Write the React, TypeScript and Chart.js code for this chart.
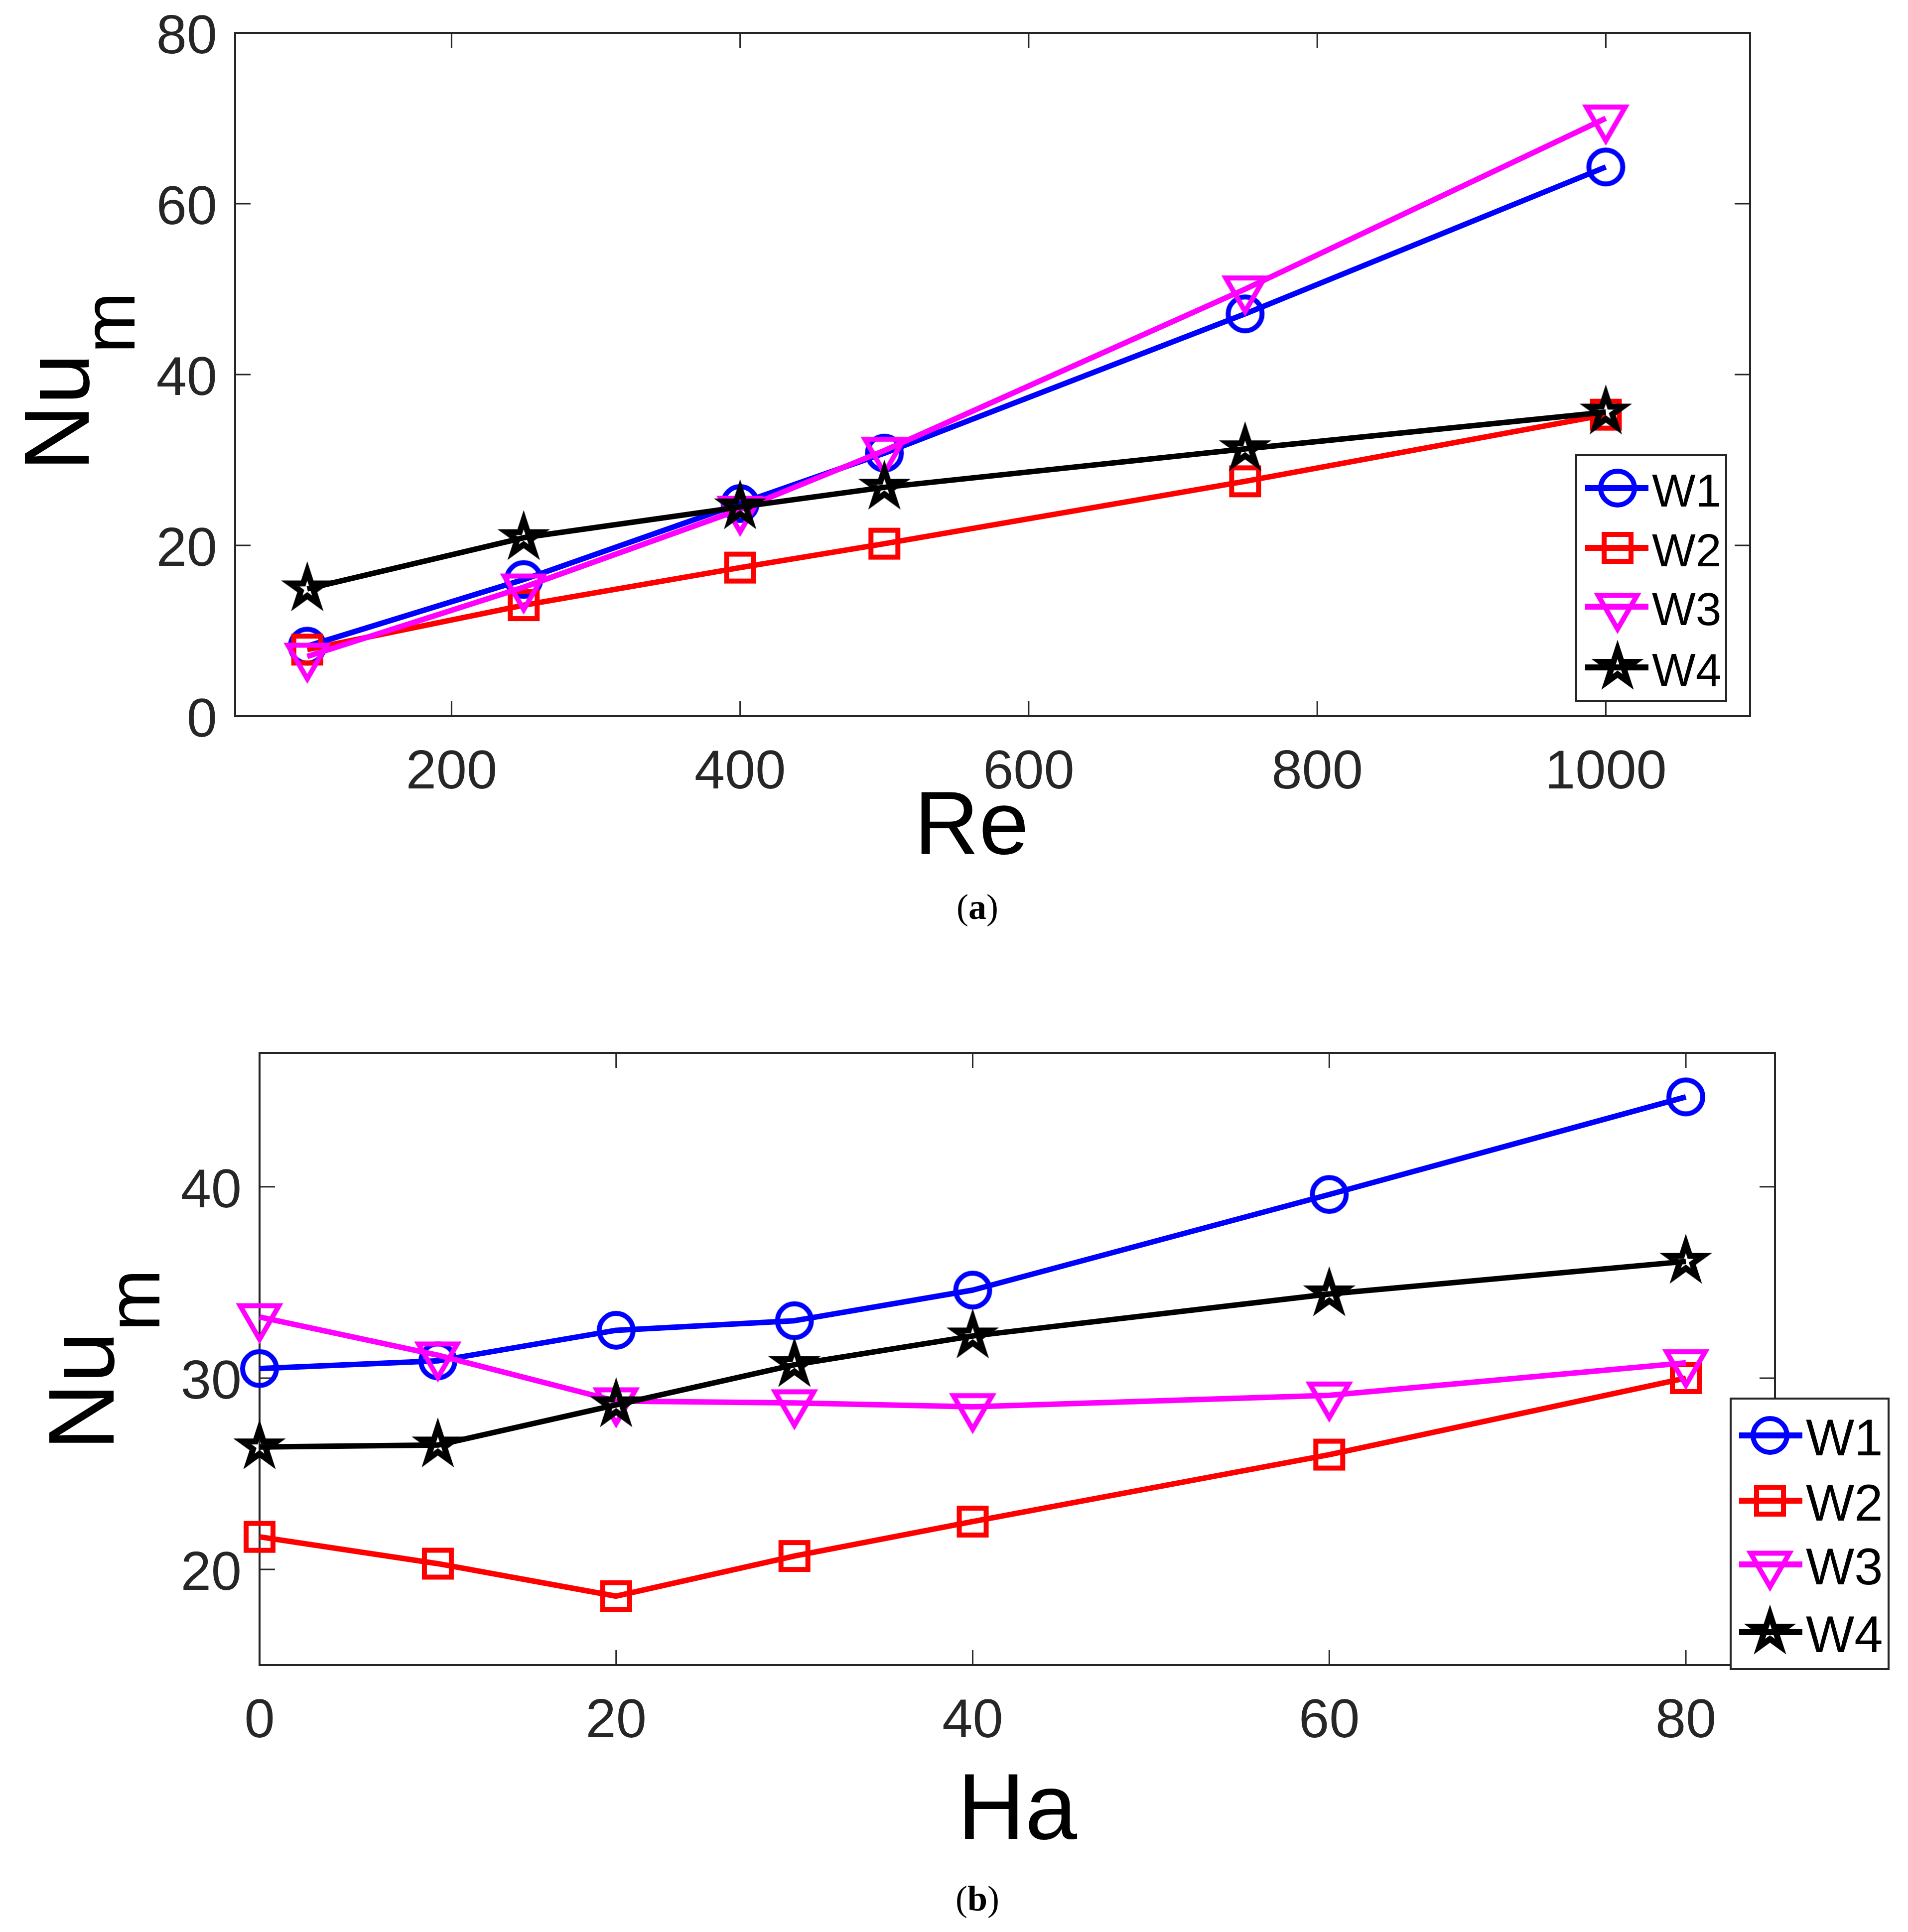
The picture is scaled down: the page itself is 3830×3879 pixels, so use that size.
import React, { useEffect, useRef } from 'react';
import { Chart, registerables } from 'chart.js';

Chart.register(...registerables);

// ---------- data (a): Nu_m vs Re ----------
const reValues = [100, 250, 400, 500, 750, 1000];
const reW1 = [8.2, 16.0, 24.9, 30.8, 47.1, 64.3];
const reW2 = [7.8, 13.0, 17.4, 20.2, 27.5, 35.3];
const reW3 = [7.0, 15.1, 24.2, 31.1, 50.0, 70.0];
const reW4 = [14.9, 20.9, 24.5, 26.8, 31.3, 35.6];
const reXTicks = [200, 400, 600, 800, 1000];
const reYTicks = [0, 20, 40, 60, 80];

// ---------- data (b): Nu_m vs Ha ----------
const haValues = [0, 10, 20, 30, 40, 60, 80];
const haW1 = [30.5, 30.9, 32.5, 33.0, 34.6, 39.6, 44.7];
const haW2 = [21.7, 20.3, 18.6, 20.7, 22.5, 26.0, 30.0];
const haW3 = [33.2, 31.2, 28.8, 28.7, 28.5, 29.1, 30.8];
const haW4 = [26.4, 26.5, 28.6, 30.7, 32.2, 34.4, 36.1];
const haXTicks = [0, 20, 40, 60, 80];
const haYTicks = [20, 30, 40];

const seriesNames = ['W1', 'W2', 'W3', 'W4'];
const seriesColors = ['#0000ff', '#ff0000', '#ff00ff', '#000000'];
const seriesMarkers = ['circle', 'square', 'triangleDown', 'star'];

const SANS = '"Liberation Sans", Arial, Helvetica, sans-serif';
const AXIS_COLOR = '#262626';

function makeMarker(kind: string, color: string): HTMLCanvasElement {
  const size = 140;
  const c = document.createElement('canvas');
  c.width = size;
  c.height = size;
  const ctx = c.getContext('2d')!;
  const cx = size / 2;
  const cy = size / 2;
  ctx.strokeStyle = color;
  ctx.lineJoin = 'miter';
  ctx.lineWidth = 10;
  ctx.beginPath();
  if (kind === 'circle') {
    ctx.arc(cx, cy, 34, 0, Math.PI * 2);
  } else if (kind === 'square') {
    ctx.rect(cx - 27, cy - 27, 54, 54);
  } else if (kind === 'triangleDown') {
    const r = 45;
    const angs = [180, 300, 60];
    angs.forEach((a, i) => {
      const rad = (a * Math.PI) / 180;
      const px = cx + Math.sin(rad) * r;
      const py = cy - Math.cos(rad) * r;
      if (i === 0) ctx.moveTo(px, py);
      else ctx.lineTo(px, py);
    });
    ctx.closePath();
  } else {
    ctx.lineWidth = 12;
    const R = 36;
    const rIn = R * 0.382;
    for (let i = 0; i < 10; i++) {
      const a = -Math.PI / 2 + (i * Math.PI) / 5;
      const rr = i % 2 === 0 ? R : rIn;
      const px = cx + Math.cos(a) * rr;
      const py = cy + Math.sin(a) * rr;
      if (i === 0) ctx.moveTo(px, py);
      else ctx.lineTo(px, py);
    }
    ctx.closePath();
  }
  ctx.stroke();
  return c;
}

type LegendCfg = {
  left: number; top: number; right: number; bottom: number;
  rows: number[]; lineX1: number; lineX2: number; markerX: number;
  textX: number; textSize: number; textDy: number;
};

type DecorCfg = {
  xTitle: string; xTitleX: number; xTitleY: number; xTitleSize: number;
  yTitleX: number; yTitleCY: number; yMain: number; ySub: number; yShift: number;
  legend: LegendCfg;
};

function makeDecor(cfg: DecorCfg, markers: HTMLCanvasElement[]) {
  return {
    id: 'decor',
    beforeDatasetsDraw(chart: any) {
      const { ctx, chartArea: a } = chart;
      const xs = chart.scales.x;
      const ys = chart.scales.y;
      ctx.save();
      ctx.strokeStyle = AXIS_COLOR;
      ctx.lineWidth = 3;
      ctx.beginPath();
      for (const t of xs.ticks) {
        const px = xs.getPixelForValue(t.value);
        ctx.moveTo(px, a.bottom);
        ctx.lineTo(px, a.bottom - 30);
        ctx.moveTo(px, a.top);
        ctx.lineTo(px, a.top + 30);
      }
      for (const t of ys.ticks) {
        const py = ys.getPixelForValue(t.value);
        ctx.moveTo(a.left, py);
        ctx.lineTo(a.left + 31, py);
        ctx.moveTo(a.right, py);
        ctx.lineTo(a.right - 31, py);
      }
      ctx.stroke();
      ctx.lineWidth = 4;
      ctx.strokeRect(a.left, a.top, a.right - a.left, a.bottom - a.top);

      // x title
      ctx.fillStyle = '#000';
      ctx.font = `${cfg.xTitleSize}px ${SANS}`;
      ctx.textAlign = 'center';
      ctx.textBaseline = 'alphabetic';
      ctx.fillText(cfg.xTitle, cfg.xTitleX, cfg.xTitleY);

      // y title Nu_m
      ctx.translate(cfg.yTitleX, cfg.yTitleCY);
      ctx.rotate(-Math.PI / 2);
      ctx.textAlign = 'left';
      const mainFont = `${cfg.yMain}px ${SANS}`;
      const subFont = `${cfg.ySub}px ${SANS}`;
      ctx.font = mainFont;
      const w1 = ctx.measureText('Nu').width;
      ctx.font = subFont;
      const w2 = ctx.measureText('m').width;
      const start = -(w1 + w2) / 2;
      ctx.font = mainFont;
      ctx.fillText('Nu', start, 0);
      ctx.font = subFont;
      ctx.fillText('m', start + w1, cfg.yShift);
      ctx.restore();
    },
    afterDatasetsDraw(chart: any) {
      const { ctx } = chart;
      const L = cfg.legend;
      ctx.save();
      ctx.fillStyle = '#fff';
      ctx.fillRect(L.left, L.top, L.right - L.left, L.bottom - L.top);
      ctx.strokeStyle = AXIS_COLOR;
      ctx.lineWidth = 4;
      ctx.strokeRect(L.left, L.top, L.right - L.left, L.bottom - L.top);
      seriesNames.forEach((name, i) => {
        const y = L.rows[i];
        ctx.strokeStyle = seriesColors[i];
        ctx.lineWidth = 12;
        ctx.beginPath();
        ctx.moveTo(L.lineX1, y);
        ctx.lineTo(L.lineX2, y);
        ctx.stroke();
        const m = markers[i];
        ctx.drawImage(m, L.markerX - m.width / 2, y - m.height / 2);
        ctx.fillStyle = '#000';
        ctx.font = `${L.textSize}px ${SANS}`;
        ctx.textAlign = 'left';
        ctx.textBaseline = 'alphabetic';
        ctx.fillText(name, L.textX, y + L.textDy);
      });
      ctx.restore();
    },
  };
}

function buildChart(
  canvas: HTMLCanvasElement,
  xVals: number[],
  series: number[][],
  xMin: number, xMax: number, yMin: number, yMax: number,
  xTicks: number[], yTicks: number[],
  layout: { top: number; right: number; yWidth: number; xHeight: number },
  decor: DecorCfg
) {
  const markers = seriesMarkers.map((k, i) => makeMarker(k, seriesColors[i]));
  const datasets = series.map((vals, i) => ({
    label: seriesNames[i],
    data: xVals.map((x, j) => ({ x, y: vals[j] })),
    borderColor: seriesColors[i],
    backgroundColor: seriesColors[i],
    borderWidth: 11,
    borderJoinStyle: 'round' as const,
    pointStyle: markers[i],
    pointRadius: 35,
    pointHoverRadius: 35,
    tension: 0,
    clip: false as any,
    order: 3 - i,
  }));
  const tickFont = { family: SANS, size: 110, lineHeight: 1 };
  return new Chart(canvas, {
    type: 'line',
    data: { datasets },
    options: {
      responsive: false,
      animation: false,
      devicePixelRatio: 1,
      events: [],
      layout: { padding: { top: layout.top, right: layout.right, left: 0, bottom: 0 } },
      plugins: { legend: { display: false }, tooltip: { enabled: false }, title: { display: false } },
      scales: {
        x: {
          type: 'linear',
          min: xMin,
          max: xMax,
          afterBuildTicks: (s: any) => { s.ticks = xTicks.map((v) => ({ value: v })); },
          afterFit: (s: any) => {
            s.height = layout.xHeight;
            s.paddingLeft = 0; s.paddingRight = 0; s.paddingTop = 0; s.paddingBottom = 0;
          },
          grid: { display: false, drawTicks: false },
          border: { display: false },
          ticks: {
            font: tickFont, color: AXIS_COLOR, padding: 60, maxRotation: 0, autoSkip: false,
            callback: (v: any) => String(v),
          },
        },
        y: {
          type: 'linear',
          min: yMin,
          max: yMax,
          afterBuildTicks: (s: any) => { s.ticks = yTicks.map((v) => ({ value: v })); },
          afterFit: (s: any) => {
            s.width = layout.yWidth;
            s.paddingLeft = 0; s.paddingRight = 0; s.paddingTop = 0; s.paddingBottom = 0;
          },
          grid: { display: false, drawTicks: false },
          border: { display: false },
          ticks: {
            font: tickFont, color: AXIS_COLOR, padding: 36, labelOffset: 11, autoSkip: false,
            callback: (v: any) => String(v),
          },
        },
      },
    },
    plugins: [makeDecor(decor, markers)],
  } as any);
}

export default function App() {
  const c1 = useRef<HTMLCanvasElement>(null);
  const c2 = useRef<HTMLCanvasElement>(null);

  useEffect(() => {
    const chA = buildChart(
      c1.current!, reValues, [reW1, reW2, reW3, reW4],
      50, 1100, 0, 80, reXTicks, reYTicks,
      { top: 66, right: 317, yWidth: 472, xHeight: 512 },
      {
        xTitle: 'Re', xTitleX: 1950, xTitleY: 1714, xTitleSize: 180,
        yTitleX: 178, yTitleCY: 766, yMain: 185, ySub: 148, yShift: 92,
        legend: {
          left: 3164, top: 914, right: 3465, bottom: 1407,
          rows: [980, 1100, 1218, 1340], lineX1: 3182, lineX2: 3309, markerX: 3247,
          textX: 3316, textSize: 93, textDy: 37,
        },
      }
    );
    const chB = buildChart(
      c2.current!, haValues, [haW1, haW2, haW3, haW4],
      0, 85, 15, 47, haXTicks, haYTicks,
      { top: 164, right: 267, yWidth: 521, xHeight: 536 },
      {
        xTitle: 'Ha', xTitleX: 2042, xTitleY: 1742, xTitleSize: 188,
        yTitleX: 228, yTitleCY: 780, yMain: 187, ySub: 150, yShift: 92,
        legend: {
          left: 3474, top: 858, right: 3791, bottom: 1401,
          rows: [932, 1063, 1191, 1327], lineX1: 3491, lineX2: 3618, markerX: 3553,
          textX: 3625, textSize: 103, textDy: 40,
        },
      }
    );
    return () => {
      chA.destroy();
      chB.destroy();
    };
  }, []);

  const capStyle: React.CSSProperties = {
    position: 'absolute',
    left: 1762,
    width: 400,
    textAlign: 'center',
    fontFamily: '"Liberation Serif", "Times New Roman", serif',
    fontSize: 72,
    lineHeight: '72px',
    color: '#000',
    margin: 0,
  };

  return (
    <div style={{ position: 'absolute', left: 0, top: 0, width: 3830, height: 3879, background: '#fff', overflow: 'hidden' }}>
      <canvas ref={c1} width={3830} height={1950} style={{ position: 'absolute', left: 0, top: 0, width: 3830, height: 1950 }} />
      <canvas ref={c2} width={3830} height={1929} style={{ position: 'absolute', left: 0, top: 1950, width: 3830, height: 1929 }} />
      <div style={{ ...capStyle, top: 1785 }}>(<b>a</b>)</div>
      <div style={{ ...capStyle, top: 3776 }}>(<b>b</b>)</div>
    </div>
  );
}
